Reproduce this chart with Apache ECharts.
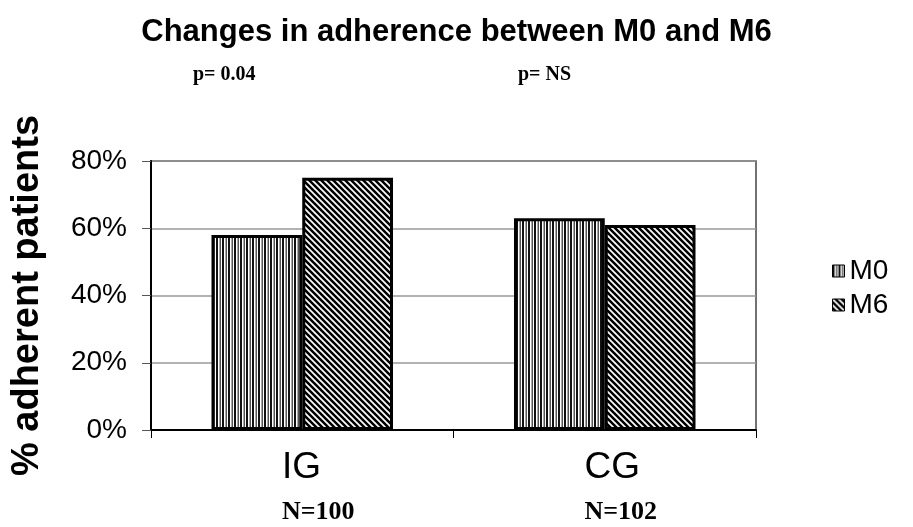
<!DOCTYPE html>
<html>
<head>
<meta charset="utf-8">
<script src="https://cdn.jsdelivr.net/npm/echarts@6/dist/echarts.min.js"></script>
<style>
html,body{margin:0;padding:0;background:#fff;}
#chart{width:913px;height:527px;}
</style>
</head>
<body>
<div id="chart"></div>
<script>
const categories = ['IG', 'CG'];
const nLabels = ['N=100', 'N=102'];
const seriesNames = ['M0', 'M6'];
const m0Values = [0.58, 0.63];
const m6Values = [0.75, 0.61];
const pLabels = ['p= 0.04', 'p= NS'];
const yMin = 0, yMax = 0.8, yStep = 0.2;

function verticalPattern() {
  const c = document.createElement('canvas');
  c.width = 6; c.height = 6;
  const g = c.getContext('2d');
  g.fillStyle = '#fff'; g.fillRect(0, 0, 6, 6);
  g.fillStyle = '#111'; g.fillRect(0, 0, 2, 6);
  g.fillStyle = '#555'; g.fillRect(3.5, 0, 1.5, 6);
  return c;
}
function diagonalPattern() {
  const n = 6;
  const c = document.createElement('canvas');
  c.width = n; c.height = n;
  const g = c.getContext('2d');
  g.fillStyle = '#000'; g.fillRect(0, 0, n, n);
  g.strokeStyle = '#fff'; g.lineWidth = 1.7;
  g.beginPath();
  g.moveTo(-1, -1); g.lineTo(n + 1, n + 1);
  g.moveTo(-1, n - 1); g.lineTo(1, n + 1);
  g.moveTo(n - 1, -1); g.lineTo(n + 1, 1);
  g.stroke();
  return c;
}
const fills = [
  { image: verticalPattern(), repeat: 'repeat' },
  { image: diagonalPattern(), repeat: 'repeat' }
];

const chart = echarts.init(document.getElementById('chart'), null, { renderer: 'canvas' });
const sans = '"Liberation Sans", Arial, sans-serif';
const serif = '"Liberation Serif", "Times New Roman", serif';

const option = {
  backgroundColor: '#fff',
  animation: false,
  title: [
    { text: 'Changes in adherence between M0 and M6', left: 'center', top: 12,
      textStyle: { fontFamily: sans, fontWeight: 'bold', fontSize: 31, color: '#000' } },
    { text: pLabels[0], left: 188, top: 60,
      textStyle: { fontFamily: serif, fontWeight: 'bold', fontSize: 20, color: '#000' } },
    { text: pLabels[1], left: 513, top: 60,
      textStyle: { fontFamily: serif, fontWeight: 'bold', fontSize: 20, color: '#000' } }
  ],
  legend: {
    orient: 'vertical', left: 827, top: 252,
    itemWidth: 12, itemHeight: 12, itemGap: 6,
    icon: 'rect',
    itemStyle: { borderColor: '#000', borderWidth: 1 },
    textStyle: { fontFamily: sans, fontSize: 28, color: '#000' },
    data: seriesNames
  },
  grid: {
    left: 151, right: 157, top: 161, bottom: 97,
    show: true, borderColor: '#444', borderWidth: 1.5, backgroundColor: 'transparent'
  },
  xAxis: {
    type: 'category',
    data: categories,
    axisLine: { lineStyle: { color: '#000', width: 2 } },
    axisTick: { show: true, length: 8, lineStyle: { color: '#000', width: 1 } },
    axisLabel: {
      margin: 14,
      padding: [0, 0, 0, 32],
      formatter: function (v, i) { return '{a|' + v + '}\n{b|' + nLabels[i] + '}'; },
      rich: {
        a: { fontFamily: sans, fontSize: 37, lineHeight: 48, color: '#000', align: 'left' },
        b: { fontFamily: serif, fontWeight: 'bold', fontSize: 26, lineHeight: 40, color: '#000', align: 'left' }
      }
    }
  },
  yAxis: {
    type: 'value',
    min: yMin, max: yMax, interval: yStep,
    name: '% adherent patients',
    nameLocation: 'middle',
    nameRotate: 90,
    nameGap: 104,
    nameTextStyle: { fontFamily: sans, fontWeight: 'bold', fontSize: 38, color: '#000' },
    axisLine: { show: true, lineStyle: { color: '#000', width: 2 } },
    axisTick: { show: true, length: 9, lineStyle: { color: '#555', width: 1 } },
    axisLabel: {
      margin: 24,
      fontFamily: sans, fontSize: 28, color: '#000',
      formatter: function (v) { return Math.round(v * 100) + '%'; }
    },
    splitLine: { show: true, lineStyle: { color: '#999', width: 1.5 } }
  },
  series: [
    { name: seriesNames[0], type: 'bar', data: m0Values, barGap: '0%', barCategoryGap: '40%',
      itemStyle: { color: fills[0], borderColor: '#000', borderWidth: 3 } },
    { name: seriesNames[1], type: 'bar', data: m6Values, barGap: '0%', barCategoryGap: '40%',
      itemStyle: { color: fills[1], borderColor: '#000', borderWidth: 3 } }
  ]
};
chart.setOption(option);
</script>
</body>
</html>
